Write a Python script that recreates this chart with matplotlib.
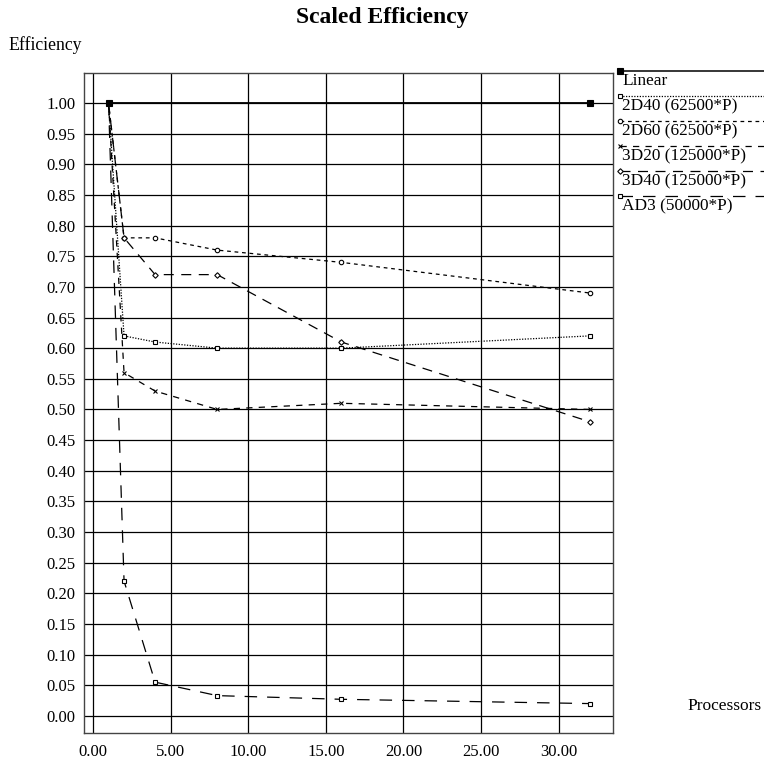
import matplotlib
matplotlib.use("Agg")
import matplotlib.pyplot as plt
from matplotlib.lines import Line2D
import numpy as np

# === DATA ===
processors = [1, 2, 4, 8, 16, 32]
linear_x = [1, 32]
linear_eff = [1.0, 1.0]
eff_2d40 = [1.0, 0.62, 0.61, 0.60, 0.60, 0.62]
eff_2d60 = [1.0, 0.78, 0.78, 0.76, 0.74, 0.69]
eff_3d20 = [1.0, 0.56, 0.53, 0.50, 0.51, 0.50]
eff_3d40 = [1.0, 0.78, 0.72, 0.72, 0.61, 0.48]
eff_ad3 = [1.0, 0.22, 0.055, 0.033, 0.027, 0.02]

labels = ["Linear", "2D40 (62500*P)", "2D60 (62500*P)",
          "3D20 (125000*P)", "3D40 (125000*P)", "AD3 (50000*P)"]

# ------------------------------
# styles
# ------------------------------
plt.rcParams["font.family"] = ["Liberation Serif", "DejaVu Serif"]
LW = 0.9
styles = [
    dict(ls="-", lw=1.3, marker="s", ms=4.5, mfc="black", mec="black"),
    dict(ls=(0, (1, 1.2)), lw=LW, marker="s", ms=3.5, mfc="white", mec="black"),
    dict(ls=(0, (3, 3)), lw=LW, marker="o", ms=3.2, mfc="white", mec="black"),
    dict(ls=(0, (5, 5)), lw=LW, marker="x", ms=3.5, mfc="white", mec="black"),
    dict(ls=(0, (8, 6)), lw=LW, marker="D", ms=2.8, mfc="white", mec="black"),
    dict(ls=(0, (10, 8)), lw=LW, marker="s", ms=3.5, mfc="white", mec="black"),
]
series = [(linear_x, linear_eff), (processors, eff_2d40), (processors, eff_2d60),
          (processors, eff_3d20), (processors, eff_3d40), (processors, eff_ad3)]

W, H = 764, 765
fig = plt.figure(figsize=(W / 100, H / 100), dpi=100)
# axes box in pixels: left 84, right 613, top 73, bottom 733
ax = fig.add_axes([84 / W, 1 - 733 / H, (613 - 84) / W, (733 - 73) / H])

for i, ((xs, ys), st) in enumerate(zip(series, styles)):
    ax.plot(xs, ys, color="black", mew=0.8, zorder=5 if i == 0 else 3, **st)

ax.set_xlim(-0.58, 33.5)
ax.set_ylim(-0.028, 1.049)
ax.set_xticks(np.arange(0, 31, 5))
ax.set_xticklabels([f"{v:.2f}" for v in np.arange(0, 31, 5)])
ax.set_yticks(np.arange(0, 1.001, 0.05))
ax.set_yticklabels([f"{v:.2f}" for v in np.arange(0, 1.001, 0.05)])
ax.tick_params(axis="y", length=0, labelsize=12, pad=6)
ax.tick_params(axis="x", length=0, labelsize=12, pad=8)
ax.grid(True, color="black", lw=0.9)
ax.set_axisbelow(True)
for sp in ax.spines.values():
    sp.set_color("#444444")
    sp.set_linewidth(1.0)

fig.text(0.5, 1 - 18 / H, "Scaled Efficiency", ha="center", va="center",
         fontsize=17, fontweight="bold")
fig.text(8 / W, 1 - 45 / H, "Efficiency", ha="left", va="center", fontsize=12.8)
fig.text(762 / W, 1 - 706 / H, "Processors", ha="right", va="center", fontsize=12.5)

# legend drawn beside the plot: a sample line with marker, text below it
for i, (lab, st) in enumerate(zip(labels, styles)):
    yl = 1 - (71 + 25 * i) / H
    fig.add_artist(Line2D([620 / W, 1.0], [yl, yl], color="black",
                          lw=1.1 if i == 0 else LW, ls=st["ls"],
                          transform=fig.transFigure))
    fig.add_artist(Line2D([620 / W], [yl], color="black", marker=st["marker"],
                          ms=st["ms"], mfc=st["mfc"], mec=st["mec"], mew=0.8,
                          transform=fig.transFigure))
    fig.text(622 / W, yl - 10 / H, lab, ha="left", va="center", fontsize=12.4)

fig.savefig("out.png", dpi=100)
